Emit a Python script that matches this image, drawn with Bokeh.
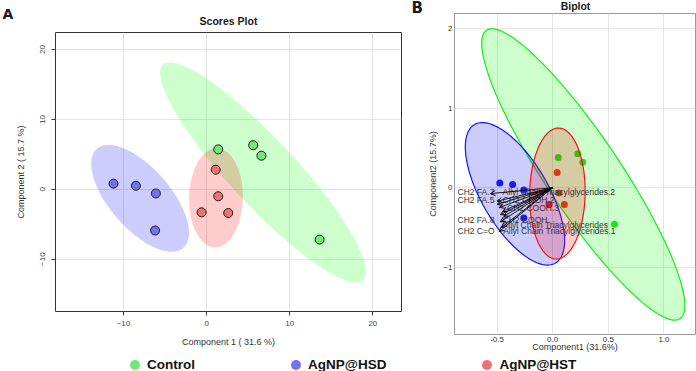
import numpy as np
from bokeh.plotting import figure
from bokeh.models import (Range1d, FixedTicker, Label, Arrow, OpenHead, Legend,
                          LegendItem, ColumnDataSource)
from bokeh.embed import file_html
from bokeh.resources import INLINE
from bokeh.core.properties import value

FONT = "Liberation Sans"

# ---------------- data ----------------
groups = ["Control", "AgNP@HSD", "AgNP@HST"]

# Scores plot (Component 1 / Component 2)
control_c1 = [1.4, 5.6, 6.6, 13.6]
control_c2 = [5.7, 6.3, 4.8, -7.2]
hsd_c1 = [-11.2, -8.5, -6.1, -6.2]
hsd_c2 = [0.8, 0.5, -0.6, -5.9]
hst_c1 = [1.1, 1.4, -0.6, 2.6]
hst_c2 = [2.8, -1.0, -3.3, -3.4]

# Biplot scores
bi_control_c1 = [0.05, 0.225, 0.27, 0.555]
bi_control_c2 = [0.38, 0.425, 0.32, -0.46]
bi_hsd_c1 = [-0.475, -0.36, -0.26, -0.26]
bi_hsd_c2 = [0.06, 0.04, -0.03, -0.38]
bi_hst_c1 = [0.04, 0.057, -0.033, 0.105]
bi_hst_c2 = [0.19, -0.066, -0.21, -0.21]

# Biplot loadings (arrow tips) and their labels
variables = ["CH2 FA.7", "Allyl Chain Triacylglycerides.2", "CH2 FA.5", "CH2 COOH.2",
             "CH2 COOH.3", "CH2 FA.8", "CH2 COOH", "Allyl Chain Triacylglycerides",
             "CH2 C=O", "Allyl Chain Triacylglycerides.1"]
load_c1 = [-0.56, -0.50, -0.50, -0.48, -0.45, -0.47, -0.44, -0.47, -0.48, -0.46]
load_c2 = [-0.075, -0.17, -0.21, -0.25, -0.30, -0.34, -0.36, -0.43, -0.55, -0.50]
label_c1 = [-0.855, -0.45, -0.855, -0.45, -0.41, -0.855, -0.45, -0.45, -0.855, -0.445]
label_c2 = [-0.06, -0.06, -0.16, -0.16, -0.26, -0.40, -0.40, -0.47, -0.545, -0.545]

x_ticks_a = [-10, 0, 10, 20]
y_ticks_a = [-10, 0, 10, 20]
x_ticks_b = [-0.5, 0.0, 0.5, 1.0]
y_ticks_b = [-1, 0, 1, 2]

# ---------------- styles ----------------
pt_fill = ["#72E872", "#7272EE", "#EE7272"]
fill_col = ["#00FF00", "#0000FF", "#FF0000"]
bi_pt = ["#22DD22", "#2222FF", "#FF2020"]
bi_line = ["#11EE11", "#1515FF", "#EE1515"]

K_SCORES = np.sqrt(-2.0 * np.log(0.05))   # 95% chi-square region, 2 df
K_BIPLOT = np.sqrt(19.0)                   # 95% F(2,2) region


def conf_ellipse(xs, ys, k, n=160):
    xs = np.asarray(xs, float)
    ys = np.asarray(ys, float)
    cov = np.cov(xs, ys)
    vals, vecs = np.linalg.eigh(cov)
    t = np.linspace(0, 2 * np.pi, n)
    circ = np.vstack([np.cos(t), np.sin(t)])
    pts = vecs @ (np.sqrt(vals)[:, None] * circ) * k
    return xs.mean() + pts[0], ys.mean() + pts[1]


def base_style(p, tick_size, label_size, tick_color, outline):
    p.outline_line_color = outline
    p.outline_line_width = 1
    p.background_fill_color = "white"
    p.border_fill_color = "white"
    p.grid.grid_line_color = "#E4E4E4"
    p.grid.grid_line_width = 1
    for ax in (p.xaxis[0], p.yaxis[0]):
        ax.axis_line_color = None
        ax.minor_tick_line_color = None
        ax.major_label_text_font = FONT
        ax.major_label_text_font_size = tick_size
        ax.major_label_text_color = tick_color
        ax.axis_label_text_font = FONT
        ax.axis_label_text_font_size = label_size
        ax.axis_label_text_font_style = "normal"
        ax.axis_label_text_color = "#333333"


def side_text(p, side, text, x, y, size, align, baseline, font=FONT):
    p.add_layout(Label(x=x, y=y, x_units="screen", y_units="screen", text=text,
                       text_align=align, text_baseline=baseline, text_font=font,
                       text_font_style="bold", text_font_size=size,
                       text_color="#1A1A1A"), side)


# ---------------- Panel A: Scores Plot ----------------
pA = figure(width=410, height=354, x_range=Range1d(-18.18, 23.45),
            y_range=Range1d(-17.49, 22.43), output_backend="svg",
            toolbar_location=None, min_border_left=55, min_border_right=9,
            min_border_top=32, min_border_bottom=43)
base_style(pA, "8px", "9px", "#444444", "#333333")
pA.xaxis.ticker = FixedTicker(ticks=x_ticks_a)
pA.yaxis.ticker = FixedTicker(ticks=y_ticks_a)
pA.xgrid.ticker = FixedTicker(ticks=x_ticks_a)
pA.ygrid.ticker = FixedTicker(ticks=y_ticks_a)
for ax in (pA.xaxis[0], pA.yaxis[0]):
    ax.major_tick_out = 4
    ax.major_tick_in = 0
    ax.major_tick_line_color = "#333333"
pA.xaxis.major_label_standoff = 5
pA.yaxis.major_label_standoff = 6
pA.yaxis.major_label_orientation = "vertical"
pA.xaxis.axis_label = "Component 1 ( 31.6 %)"
pA.yaxis.axis_label = "Component 2 ( 15.7 %)"
pA.xaxis.axis_label_standoff = 8
pA.yaxis.axis_label_standoff = 12

score_sets = [(control_c1, control_c2), (hsd_c1, hsd_c2), (hst_c1, hst_c2)]
for (xs, ys), fc in zip(score_sets, fill_col):
    ex, ey = conf_ellipse(xs, ys, K_SCORES)
    pA.patch(ex, ey, fill_color=fc, fill_alpha=0.2, line_color=None)
for (xs, ys), pc in zip(score_sets, pt_fill):
    pA.scatter(xs, ys, size=9, fill_color=pc, line_color="#1A1A1A", line_width=1)

side_text(pA, "above", "Scores Plot", 173, 12, "10.5px", "center", "middle")
side_text(pA, "above", "A", -53, 7, "14px", "left", "alphabetic", "DejaVu Sans")

# ---------------- Panel B: Biplot ----------------
pB = figure(width=286, height=354, x_range=Range1d(-0.882, 1.283),
            y_range=Range1d(-1.844, 2.187), output_backend="svg",
            toolbar_location=None, min_border_left=44, min_border_right=1,
            min_border_top=13, min_border_bottom=18)
base_style(pB, "8px", "9px", "#333333", "#999999")
pB.xaxis.ticker = FixedTicker(ticks=x_ticks_b)
pB.yaxis.ticker = FixedTicker(ticks=y_ticks_b)
pB.xgrid.ticker = FixedTicker(ticks=x_ticks_b)
pB.ygrid.ticker = FixedTicker(ticks=y_ticks_b)
pB.xaxis.major_label_overrides = {-0.5: "-0.5", 0.0: "0.0", 0.5: "0.5", 1.0: "1.0"}
for ax in (pB.xaxis[0], pB.yaxis[0]):
    ax.major_tick_out = 0
    ax.major_tick_in = 0
    ax.major_label_standoff = 2
pB.xaxis.axis_label = "Component1 (31.6%)"
pB.yaxis.axis_label = "Component2 (15.7%)"
pB.xaxis.axis_label_standoff = -3
pB.yaxis.axis_label_standoff = 2

bi_sets = [(bi_control_c1, bi_control_c2), (bi_hsd_c1, bi_hsd_c2), (bi_hst_c1, bi_hst_c2)]
for (xs, ys), pc in zip(bi_sets, bi_pt):
    pB.scatter(xs, ys, size=7, fill_color=pc, line_color=None)
for (xs, ys), fc, lc in zip(bi_sets, fill_col, bi_line):
    ex, ey = conf_ellipse(xs, ys, K_BIPLOT)
    pB.patch(ex, ey, fill_color=fc, fill_alpha=0.2, line_color=lc, line_width=1.2)

arr_src = ColumnDataSource(dict(x0=[0.0] * len(load_c1), y0=[0.0] * len(load_c1),
                                x1=load_c1, y1=load_c2))
pB.add_layout(Arrow(end=OpenHead(size=5, line_width=1, line_color="black"),
                    x_start="x0", y_start="y0", x_end="x1", y_end="y1",
                    source=arr_src, line_color="black", line_width=0.9))
pB.text(label_c1, label_c2, text=variables, text_align="left", text_baseline="middle",
        text_font=value(FONT), text_font_size="8.5px", text_color="#333333")

side_text(pB, "above", "Biplot", 121, 8, "10.5px", "center", "middle")
side_text(pB, "left", "B", -3, 327, "15px", "left", "alphabetic", "DejaVu Sans")

# ---------------- Legend strip ----------------
pL = figure(width=696, height=17, x_range=Range1d(0, 1), y_range=Range1d(0, 1),
            output_backend="svg", toolbar_location=None, min_border=0,
            x_axis_type=None, y_axis_type=None)
pL.outline_line_color = None
pL.grid.visible = False
items = []
for g, (xs, ys), pc in zip(groups, score_sets, pt_fill):
    r = pL.scatter(xs, ys, size=10, fill_color=pc, line_color=None)
    r.visible = False
    items.append(LegendItem(label=g, renderers=[r]))
leg = Legend(items=items, orientation="horizontal", location=(122, -6),
             glyph_width=25, glyph_height=25, label_standoff=0, spacing=88,
             padding=0, margin=0, border_line_color=None, background_fill_alpha=0,
             inactive_fill_alpha=0, click_policy="none",
             label_text_font=FONT, label_text_font_style="bold",
             label_text_font_size="13.5px", label_text_color="#111111")
pL.add_layout(leg)

TEMPLATE = """
{% from macros import embed %}
{% block postamble %}
<style>
#panels { display: flex; flex-wrap: wrap; width: 696px; align-items: flex-start; }
#panels > div > * { flex: 0 0 auto; }
</style>
{% endblock %}
{% block contents %}
<div id="panels">
{% for doc in docs %}{% for root in doc.roots %}{{ embed(root) }}{% endfor %}{% endfor %}
</div>
{% endblock %}
"""

open("out.html", "w").write(file_html([pA, pB, pL], INLINE, template=TEMPLATE))
